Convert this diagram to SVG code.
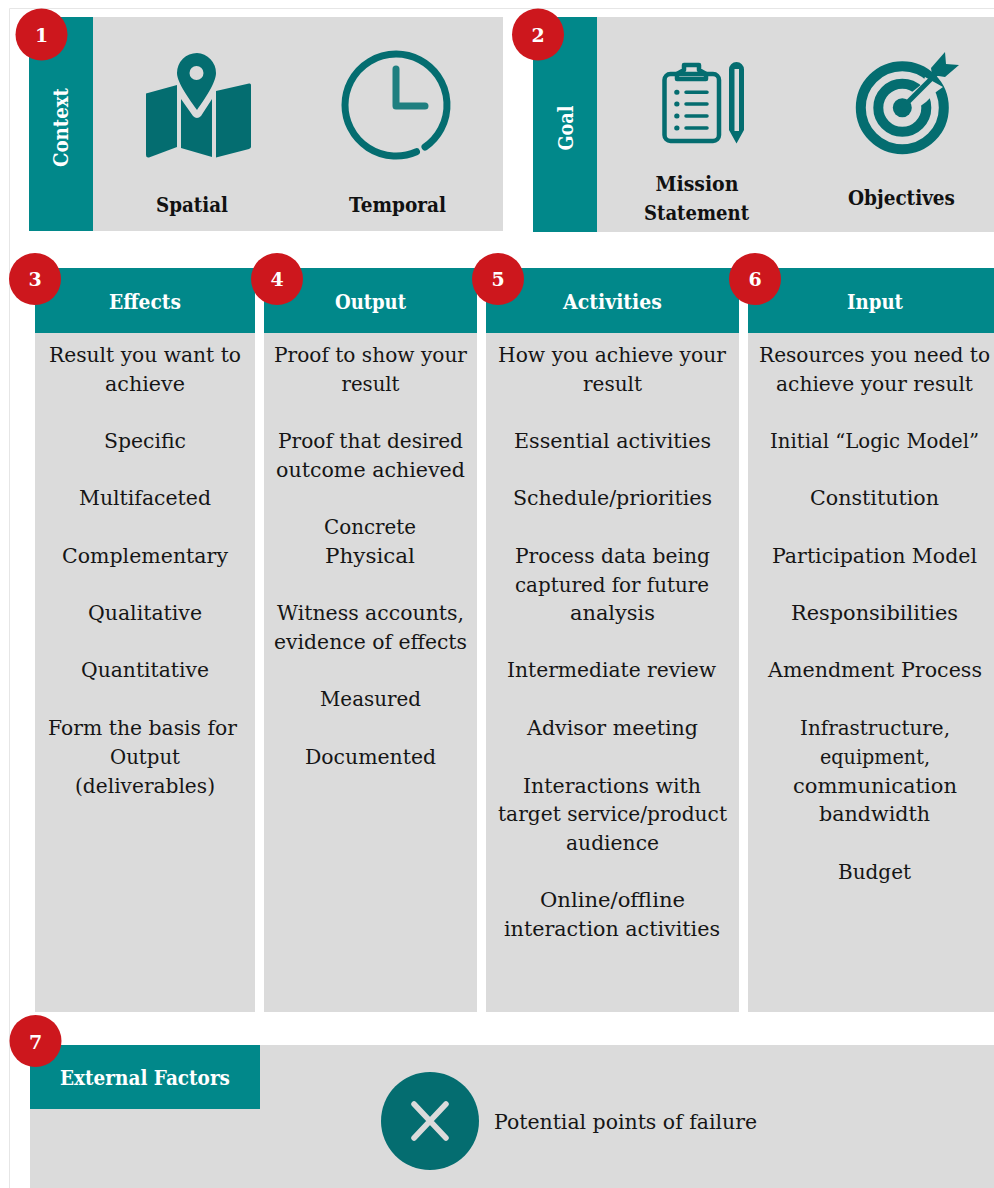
<svg xmlns="http://www.w3.org/2000/svg" width="994" height="1188" viewBox="0 0 994 1188">
<style>
.g{fill:#dbdbdb}.t{fill:#01888a}.r{fill:#cd171d}
text{font-family:"DejaVu Serif","Liberation Serif",serif;text-anchor:middle}
.b{font-size:20px;fill:#151515}
.h{font-size:20px;font-weight:700;fill:#fff}
.l{font-size:20px;font-weight:700;fill:#111}
.n{font-size:19px;font-weight:700;fill:#fff}
.ic{fill:#046d70}.st{fill:none;stroke:#046d70;stroke-linecap:round;stroke-linejoin:round}
</style>
<rect width="994" height="1188" fill="#fff"/>
<path d="M9.5 1188V8.5H994" fill="none" stroke="#e6e6e6"/>

<g id="context">
<rect class="g" x="93" y="17" width="410" height="214"/><rect class="t" x="29" y="17" width="64" height="214"/>
<text class="h" transform="translate(68 127.5) rotate(-90)" textLength="79" lengthAdjust="spacingAndGlyphs">Context</text>
<g id="spatial-icon">
<path class="ic" d="M146 93.500L177 85V147L149 157.500Q146 158 146 155Z"/>
<path class="ic" d="M181 99L193 116Q197 120 201 116L212 99V157L181 148Z"/>
<path class="ic" d="M216 91L249 83.500Q251 83 251 85V147Q251 148 249 149L216 157.500Z"/>
<path class="ic" d="M197 53A20 20 0 0 1 216 73C216 83 204 100 197 110C190 100 177 83 177 73A20 20 0 0 1 197 53Z"/>
<circle class="g" cx="196.500" cy="73" r="7"/>
</g>
<text class="l" x="192" y="212" textLength="72" lengthAdjust="spacingAndGlyphs">Spatial</text>
<g id="temporal-icon" class="st">
<path stroke-width="7" d="M416.500 151.700A51 51 0 0 1 345 105A51 51 0 1 1 425 147"/>
<path stroke-width="7" style="stroke:#1f7f80" d="M396 69V106H425"/>
</g>
<text class="l" x="397.500" y="212" textLength="97" lengthAdjust="spacingAndGlyphs">Temporal</text>
</g>

<g id="goal">
<rect class="g" x="597" y="17" width="397" height="215"/><rect class="t" x="533" y="17" width="64" height="215"/>
<text class="h" transform="translate(573 128) rotate(-90)" textLength="45" lengthAdjust="spacingAndGlyphs">Goal</text>
<g id="mission-icon">
<g class="st" stroke-width="4.500">
<rect x="664.500" y="74" width="54.500" height="67" rx="6"/>
<path d="M677 79V74L684 70V65H699V70L706 74V79Z"/>
</g>
<path class="st" stroke-width="3.500" d="M686 92.300H707M686 104H707M686 116H707M686 128H707"/>
<path class="st" stroke-width="5" d="M676.700 92.300H677M676.700 104H677M676.700 116H677M676.700 128H677"/>
<path class="ic" d="M729 69.500A7.500 7.500 0 0 1 744 69.500V130L736.500 143.500L729 130Z"/>
<rect class="g" x="734.500" y="69" width="4.500" height="62"/>
</g>
<text class="l" x="697" y="191" textLength="83" lengthAdjust="spacingAndGlyphs">Mission</text>
<text class="l" x="696.500" y="220" textLength="105" lengthAdjust="spacingAndGlyphs">Statement</text>
<g id="objectives-icon">
<circle cx="902.300" cy="107.700" r="41.500" fill="none" stroke="#046d70" stroke-width="10"/>
<circle cx="902.300" cy="107.700" r="24" fill="none" stroke="#046d70" stroke-width="10"/>
<circle class="ic" cx="902.300" cy="107.700" r="9.500"/>
<path class="g" d="M912 92L922 84L925 77L943 87L936 92L926 102L915 110Z"/>
<path d="M902 108L938 72" stroke="#046d70" stroke-width="5" fill="none"/>
<path class="ic" d="M931 68L945 52L946 64L959 65L945 77L932 75Z"/>
</g>
<text class="l" x="901.500" y="205" textLength="107" lengthAdjust="spacingAndGlyphs">Objectives</text>
</g>

<g id="effects">
<rect class="g" x="35" y="333" width="220" height="679"/><rect class="t" x="35" y="268" width="220" height="65"/>
<text class="h" x="145" y="309" textLength="72" lengthAdjust="spacingAndGlyphs">Effects</text>
<g class="b">
<text x="145" y="362" textLength="192" lengthAdjust="spacingAndGlyphs">Result you want to</text>
<text x="145" y="391" textLength="80" lengthAdjust="spacingAndGlyphs">achieve</text>
<text x="145" y="448" textLength="82" lengthAdjust="spacingAndGlyphs">Specific</text>
<text x="145" y="505" textLength="132" lengthAdjust="spacingAndGlyphs">Multifaceted</text>
<text x="145" y="563" textLength="166" lengthAdjust="spacingAndGlyphs">Complementary</text>
<text x="145" y="620" textLength="114" lengthAdjust="spacingAndGlyphs">Qualitative</text>
<text x="145" y="677" textLength="128" lengthAdjust="spacingAndGlyphs">Quantitative</text>
<text x="142.500" y="735" textLength="189" lengthAdjust="spacingAndGlyphs">Form the basis for</text>
<text x="145" y="764" textLength="70" lengthAdjust="spacingAndGlyphs">Output</text>
<text x="145" y="793" textLength="140" lengthAdjust="spacingAndGlyphs">(deliverables)</text>
</g></g>

<g id="output">
<rect class="g" x="264" y="333" width="213" height="679"/><rect class="t" x="264" y="268" width="213" height="65"/>
<text class="h" x="370.500" y="309" textLength="71" lengthAdjust="spacingAndGlyphs">Output</text>
<g class="b">
<text x="370.500" y="362" textLength="193" lengthAdjust="spacingAndGlyphs">Proof to show your</text>
<text x="370.500" y="391" textLength="58" lengthAdjust="spacingAndGlyphs">result</text>
<text x="370.500" y="448" textLength="185" lengthAdjust="spacingAndGlyphs">Proof that desired</text>
<text x="370.500" y="477" textLength="189" lengthAdjust="spacingAndGlyphs">outcome achieved</text>
<text x="370" y="534" textLength="92" lengthAdjust="spacingAndGlyphs">Concrete</text>
<text x="370" y="563" textLength="90" lengthAdjust="spacingAndGlyphs">Physical</text>
<text x="370.500" y="620" textLength="187" lengthAdjust="spacingAndGlyphs">Witness accounts,</text>
<text x="370.500" y="649" textLength="193" lengthAdjust="spacingAndGlyphs">evidence of effects</text>
<text x="370.500" y="706" textLength="101" lengthAdjust="spacingAndGlyphs">Measured</text>
<text x="370.500" y="764" textLength="131" lengthAdjust="spacingAndGlyphs">Documented</text>
</g></g>

<g id="activities">
<rect class="g" x="486" y="333" width="253" height="679"/><rect class="t" x="486" y="268" width="253" height="65"/>
<text class="h" x="612.500" y="309" textLength="99" lengthAdjust="spacingAndGlyphs">Activities</text>
<g class="b">
<text x="612" y="362" textLength="228" lengthAdjust="spacingAndGlyphs">How you achieve your</text>
<text x="612.500" y="391" textLength="59" lengthAdjust="spacingAndGlyphs">result</text>
<text x="612.500" y="448" textLength="197" lengthAdjust="spacingAndGlyphs">Essential activities</text>
<text x="612.500" y="505" textLength="199" lengthAdjust="spacingAndGlyphs">Schedule/priorities</text>
<text x="612.500" y="563" textLength="195" lengthAdjust="spacingAndGlyphs">Process data being</text>
<text x="612" y="592" textLength="194" lengthAdjust="spacingAndGlyphs">captured for future</text>
<text x="612.500" y="620" textLength="85" lengthAdjust="spacingAndGlyphs">analysis</text>
<text x="611.500" y="677" textLength="209" lengthAdjust="spacingAndGlyphs">Intermediate review</text>
<text x="612.500" y="735" textLength="171" lengthAdjust="spacingAndGlyphs">Advisor meeting</text>
<text x="612" y="793" textLength="178" lengthAdjust="spacingAndGlyphs">Interactions with</text>
<text x="612.500" y="821" textLength="229" lengthAdjust="spacingAndGlyphs">target service/product</text>
<text x="612.500" y="850" textLength="93" lengthAdjust="spacingAndGlyphs">audience</text>
<text x="612.500" y="907" textLength="145" lengthAdjust="spacingAndGlyphs">Online/offline</text>
<text x="612" y="936" textLength="216" lengthAdjust="spacingAndGlyphs">interaction activities</text>
</g></g>

<g id="input">
<rect class="g" x="748" y="333" width="246" height="679"/><rect class="t" x="748" y="268" width="246" height="65"/>
<text class="h" x="875" y="309" textLength="56" lengthAdjust="spacingAndGlyphs">Input</text>
<g class="b">
<text x="874.500" y="362" textLength="231" lengthAdjust="spacingAndGlyphs">Resources you need to</text>
<text x="874.500" y="391" textLength="197" lengthAdjust="spacingAndGlyphs">achieve your result</text>
<text x="874.500" y="448" textLength="209" lengthAdjust="spacingAndGlyphs">Initial “Logic Model”</text>
<text x="874.500" y="505" textLength="129" lengthAdjust="spacingAndGlyphs">Constitution</text>
<text x="874.500" y="563" textLength="205" lengthAdjust="spacingAndGlyphs">Participation Model</text>
<text x="874.500" y="620" textLength="167" lengthAdjust="spacingAndGlyphs">Responsibilities</text>
<text x="875" y="677" textLength="214" lengthAdjust="spacingAndGlyphs">Amendment Process</text>
<text x="875" y="735" textLength="150" lengthAdjust="spacingAndGlyphs">Infrastructure,</text>
<text x="875" y="764" textLength="110" lengthAdjust="spacingAndGlyphs">equipment,</text>
<text x="875" y="793" textLength="164" lengthAdjust="spacingAndGlyphs">communication</text>
<text x="874.500" y="821" textLength="111" lengthAdjust="spacingAndGlyphs">bandwidth</text>
<text x="874.500" y="879" textLength="73" lengthAdjust="spacingAndGlyphs">Budget</text>
</g></g>

<g id="external-factors">
<rect class="g" x="30" y="1045" width="964" height="143"/><rect class="t" x="30" y="1045" width="230" height="64"/>
<text class="h" x="145" y="1085" textLength="170" lengthAdjust="spacingAndGlyphs">External Factors</text>
<circle class="ic" cx="430" cy="1121" r="49"/>
<path d="M414 1104L446 1138M446 1104L414 1138" stroke="#dbdbdb" stroke-width="5.500" stroke-linecap="round"/>
<text class="b" x="625.500" y="1129" textLength="263" lengthAdjust="spacingAndGlyphs">Potential points of failure</text>
</g>

<g id="badges">
<g id="badge-1"><circle class="r" cx="41.500" cy="34.500" r="26"/><text class="n" x="41.500" y="42">1</text></g>
<g id="badge-2"><circle class="r" cx="538" cy="34.500" r="26"/><text class="n" x="538" y="42">2</text></g>
<g id="badge-3"><circle class="r" cx="35" cy="279" r="26"/><text class="n" x="35" y="286">3</text></g>
<g id="badge-4"><circle class="r" cx="277" cy="279" r="26"/><text class="n" x="277" y="286">4</text></g>
<g id="badge-5"><circle class="r" cx="498" cy="279" r="26"/><text class="n" x="498" y="286">5</text></g>
<g id="badge-6"><circle class="r" cx="755" cy="279" r="26"/><text class="n" x="755" y="286">6</text></g>
<g id="badge-7"><circle class="r" cx="35.500" cy="1041" r="26"/><text class="n" x="35.500" y="1049">7</text></g>
</g>
</svg>
